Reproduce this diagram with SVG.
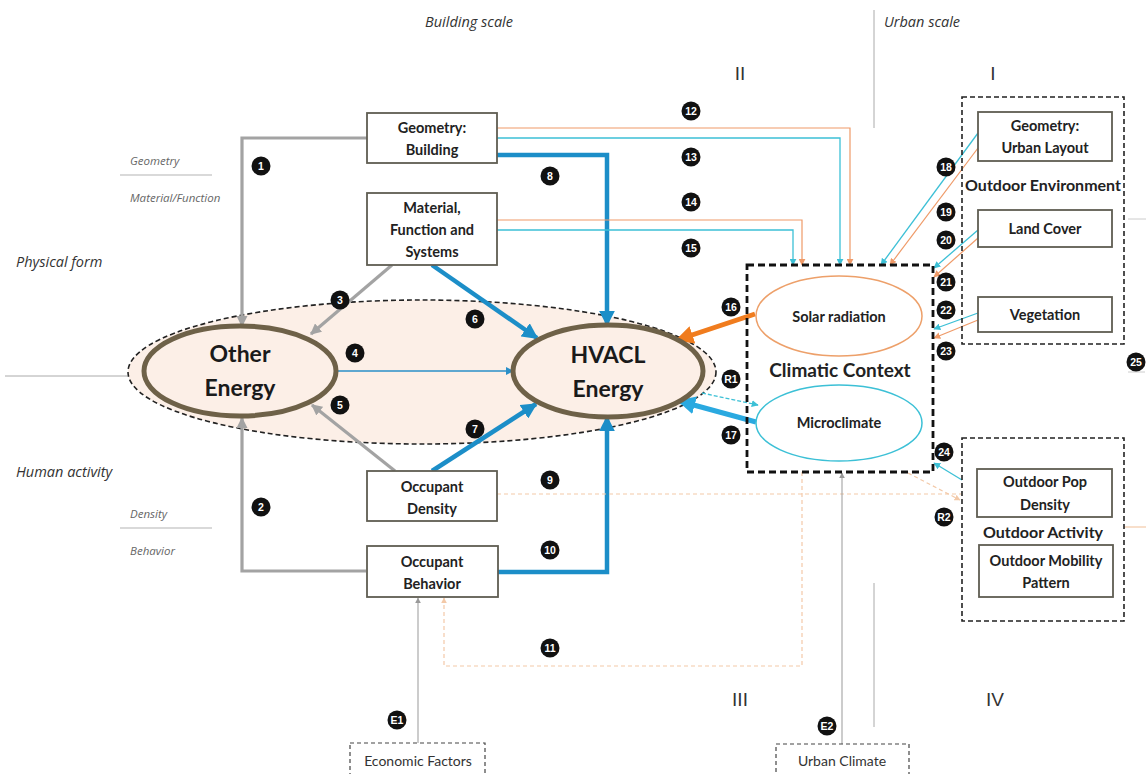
<svg xmlns="http://www.w3.org/2000/svg" width="1146" height="774" viewBox="0 0 1146 774">
<style>
.box{fill:#fff;stroke:#5f5d52;stroke-width:1.8}
.bt{font-family:Lato,"Liberation Sans",sans-serif;font-weight:bold;font-size:14.5px;fill:#222;text-anchor:middle}
.big{font-family:Lato,"Liberation Sans",sans-serif;font-weight:bold;font-size:23px;fill:#1a1a1a;text-anchor:middle}
.grp{font-family:Lato,"Liberation Sans",sans-serif;font-weight:bold;font-size:16px;fill:#222;text-anchor:middle}
.it{font-family:"Open Sans","Liberation Sans",sans-serif;font-style:italic;fill:#333}
.sm{font-family:"Open Sans","Liberation Sans",sans-serif;font-style:italic;font-size:11.5px;fill:#666}
.rn{font-family:"Liberation Sans",sans-serif;font-size:19px;fill:#333;text-anchor:middle}
.ext{font-family:Lato,"Liberation Sans",sans-serif;font-size:14px;fill:#333;text-anchor:middle}
.bd circle{fill:#111}
.bd text{font-family:"Liberation Sans",sans-serif;font-weight:bold;font-size:10.5px;fill:#fff;text-anchor:middle}
.dash{fill:none;stroke:#222;stroke-dasharray:5 3}
.g{fill:none;stroke:#a3a3a3;stroke-width:3.2}
.b{fill:none;stroke:#1c8ec8;stroke-width:4.5}
.bthin{fill:none;stroke:#2a8fc8;stroke-width:1.5}
.c{fill:none;stroke:#3cc0d6;stroke-width:1.3}
.o{fill:none;stroke:#ef9a68;stroke-width:1.2}
.of{fill:none;stroke:#f3c9a8;stroke-width:1.2;stroke-dasharray:4 3}
.thin{fill:none;stroke:#999;stroke-width:1}
.div{fill:none;stroke:#aaa;stroke-width:1}
</style>
<defs>
<marker id="ag" viewBox="0 0 10 10" refX="9" refY="5" markerWidth="11" markerHeight="11" markerUnits="userSpaceOnUse" orient="auto"><path d="M0,0 L10,5 L0,10 z" fill="#a3a3a3"/></marker>
<marker id="ab" viewBox="0 0 10 10" refX="9" refY="5" markerWidth="16" markerHeight="16" markerUnits="userSpaceOnUse" orient="auto"><path d="M0,0 L10,5 L0,10 z" fill="#1c8ec8"/></marker>
<marker id="abt" viewBox="0 0 10 10" refX="9" refY="5" markerWidth="8" markerHeight="8" markerUnits="userSpaceOnUse" orient="auto"><path d="M0,0 L10,5 L0,10 z" fill="#2a8fc8"/></marker>
<marker id="ac" viewBox="0 0 10 10" refX="9" refY="5" markerWidth="7" markerHeight="7" markerUnits="userSpaceOnUse" orient="auto"><path d="M0,0 L10,5 L0,10 z" fill="#3cc0d6"/></marker>
<marker id="ao" viewBox="0 0 10 10" refX="9" refY="5" markerWidth="7" markerHeight="7" markerUnits="userSpaceOnUse" orient="auto"><path d="M0,0 L10,5 L0,10 z" fill="#ef9a68"/></marker>
<marker id="aof" viewBox="0 0 10 10" refX="9" refY="5" markerWidth="6" markerHeight="6" markerUnits="userSpaceOnUse" orient="auto"><path d="M0,0 L10,5 L0,10 z" fill="#f3c9a8"/></marker>
<marker id="aot" viewBox="0 0 10 10" refX="9" refY="5" markerWidth="18" markerHeight="18" markerUnits="userSpaceOnUse" orient="auto"><path d="M0,0 L10,5 L0,10 z" fill="#f07c1e"/></marker>
<marker id="act" viewBox="0 0 10 10" refX="9" refY="5" markerWidth="18" markerHeight="18" markerUnits="userSpaceOnUse" orient="auto"><path d="M0,0 L10,5 L0,10 z" fill="#2aa9e0"/></marker>
<marker id="agt" viewBox="0 0 10 10" refX="9" refY="5" markerWidth="6" markerHeight="6" markerUnits="userSpaceOnUse" orient="auto"><path d="M0,0 L10,5 L0,10 z" fill="#999"/></marker>
</defs>
<rect width="1146" height="774" fill="#fff"/>

<g id="labels">
<text class="it" x="469" y="27" font-size="14.5" text-anchor="middle">Building scale</text>
<text class="it" x="922" y="27" font-size="14.5" text-anchor="middle">Urban scale</text>
<line class="div" x1="874" y1="10" x2="874" y2="128"/>
<line class="div" x1="874" y1="583" x2="874" y2="727"/>
<text class="rn" x="740" y="80">II</text>
<text class="rn" x="993" y="80">I</text>
<text class="rn" x="740" y="706">III</text>
<text class="rn" x="995" y="706">IV</text>
<text class="sm" x="130" y="165">Geometry</text>
<line x1="120" y1="175" x2="212" y2="175" stroke="#ccc" stroke-width="1.5"/>
<text class="sm" x="130" y="202">Material/Function</text>
<text class="it" x="16" y="267" font-size="14.5">Physical form</text>
<line class="div" x1="5" y1="376" x2="128" y2="376"/>
<text class="it" x="16" y="477" font-size="14.5">Human activity</text>
<text class="sm" x="130" y="518">Density</text>
<line x1="120" y1="528" x2="212" y2="528" stroke="#ccc" stroke-width="1.5"/>
<text class="sm" x="130" y="555">Behavior</text>
<line x1="1128" y1="219" x2="1146" y2="219" stroke="#ccc" stroke-width="1"/>
<line x1="1128" y1="372" x2="1145" y2="372" stroke="#ccc" stroke-width="1"/>
<line x1="1124" y1="527" x2="1146" y2="527" stroke="#f3c9a8" stroke-width="1.2"/>
</g>

<g id="energy-group">
<ellipse cx="422" cy="372" rx="294" ry="72" class="dash" stroke-width="1.6" style="fill:#fcefe7"/>
</g>

<g id="connectors">
<path class="g" d="M367,138 H242 V326" marker-end="url(#ag)"/>
<path class="g" d="M366,571 H242 V418" marker-end="url(#ag)"/>
<path class="g" d="M392,265 L311,334" marker-end="url(#ag)"/>
<path class="g" d="M395,471 L312,405" marker-end="url(#ag)"/>
<path class="bthin" d="M337,371 H513" marker-end="url(#abt)"/>
<path class="b" d="M432,265 L537,338" marker-end="url(#ab)"/>
<path class="b" d="M432,471 L536,404" marker-end="url(#ab)"/>
<path class="b" d="M497,155 H607 V325" marker-end="url(#ab)"/>
<path class="b" d="M498,572 H607 V417" marker-end="url(#ab)"/>
<path class="o" d="M497,128 H850 V265" marker-end="url(#ao)"/>
<path class="c" d="M497,138 H840 V265" marker-end="url(#ac)"/>
<path class="o" d="M497,220 H802 V265" marker-end="url(#ao)"/>
<path class="c" d="M497,230 H793 V265" marker-end="url(#ac)"/>
<path fill="none" stroke="#f07c1e" stroke-width="5" d="M755,314 L677,340" marker-end="url(#aot)"/>
<path fill="none" stroke="#2aa9e0" stroke-width="5" d="M756,422 L679,401" marker-end="url(#act)"/>
<path class="c" stroke-dasharray="4 2" d="M702,393 L758,405" marker-end="url(#ac)"/>
<path class="c" d="M978,133 L881,265" marker-end="url(#ac)"/>
<path class="o" d="M978,148 L890,265" marker-end="url(#ao)"/>
<path class="c" d="M978,230 L934,268" marker-end="url(#ac)"/>
<path class="o" d="M978,238 L934,277" marker-end="url(#ao)"/>
<path class="c" d="M978,313 L934,329" marker-end="url(#ac)"/>
<path class="o" d="M978,320 L934,338" marker-end="url(#ao)"/>
<path class="c" d="M962,480 L934,463" marker-end="url(#ac)"/>
<path class="of" d="M497,494 H962"/>
<path class="of" d="M908,473 L960,500" marker-end="url(#aof)"/>
<path class="of" d="M802,472 V666 H444 V598" marker-end="url(#aof)"/>
<path class="thin" d="M418,743 V598" marker-end="url(#agt)"/>
<path class="thin" d="M842,744 V473" marker-end="url(#agt)"/>
</g>

<g id="other-energy">
<ellipse cx="240" cy="371" rx="96" ry="45" fill="#fcefe7" stroke="#6e6148" stroke-width="5"/>
<text class="big" x="240" y="362">Other</text>
<text class="big" x="240" y="396">Energy</text>
</g>
<g id="hvacl-energy">
<ellipse cx="608" cy="371" rx="95" ry="46" fill="#fcefe7" stroke="#6e6148" stroke-width="5"/>
<text class="big" x="608" y="363">HVACL</text>
<text class="big" x="608" y="397">Energy</text>
</g>

<g id="geometry-building">
<rect class="box" x="367" y="113" width="130" height="50"/>
<text class="bt" x="432" y="133">Geometry:</text>
<text class="bt" x="432" y="155">Building</text>
</g>
<g id="material">
<rect class="box" x="367" y="193" width="130" height="72"/>
<text class="bt" x="432" y="213">Material,</text>
<text class="bt" x="432" y="235">Function and</text>
<text class="bt" x="432" y="257">Systems</text>
</g>
<g id="occupant-density">
<rect class="box" x="367" y="471" width="130" height="50"/>
<text class="bt" x="432" y="492">Occupant</text>
<text class="bt" x="432" y="514">Density</text>
</g>
<g id="occupant-behavior">
<rect class="box" x="367" y="546" width="131" height="51"/>
<text class="bt" x="432" y="567">Occupant</text>
<text class="bt" x="432" y="589">Behavior</text>
</g>

<g id="climatic-context">
<rect x="747" y="265" width="186" height="207" fill="none" stroke="#111" stroke-width="2.8" stroke-dasharray="7 4"/>
<text class="grp" x="840" y="377" style="font-size:19px">Climatic Context</text>
</g>
<g id="solar-radiation">
<ellipse cx="839" cy="316" rx="83" ry="40" fill="#fff" stroke="#eda06a" stroke-width="1.5"/>
<text class="bt" x="839" y="322">Solar radiation</text>
</g>
<g id="microclimate">
<ellipse cx="839" cy="423" rx="83" ry="38" fill="#fff" stroke="#3cc0d6" stroke-width="1.5"/>
<text class="bt" x="839" y="428">Microclimate</text>
</g>

<g id="outdoor-environment">
<rect x="962" y="97" width="162" height="247" fill="none" stroke="#222" stroke-width="1.6" stroke-dasharray="5 3"/>
<text class="grp" x="1043" y="191">Outdoor Environment</text>
</g>
<g id="urban-layout">
<rect class="box" x="978" y="112" width="134" height="49"/>
<text class="bt" x="1045" y="131">Geometry:</text>
<text class="bt" x="1045" y="153">Urban Layout</text>
</g>
<g id="land-cover">
<rect class="box" x="978" y="210" width="134" height="37"/>
<text class="bt" x="1045" y="234">Land Cover</text>
</g>
<g id="vegetation">
<rect class="box" x="978" y="297" width="134" height="35"/>
<text class="bt" x="1045" y="320">Vegetation</text>
</g>

<g id="outdoor-activity">
<rect x="962" y="438" width="162" height="183" fill="none" stroke="#222" stroke-width="1.6" stroke-dasharray="5 3"/>
<text class="grp" x="1043" y="538">Outdoor Activity</text>
</g>
<g id="outdoor-pop-density">
<rect class="box" x="977" y="469" width="135" height="48"/>
<text class="bt" x="1045" y="487">Outdoor Pop</text>
<text class="bt" x="1045" y="510">Density</text>
</g>
<g id="outdoor-mobility">
<rect class="box" x="979" y="545" width="134" height="52"/>
<text class="bt" x="1046" y="566">Outdoor Mobility</text>
<text class="bt" x="1046" y="588">Pattern</text>
</g>

<g id="economic-factors">
<rect x="350" y="743" width="135" height="36" fill="#fff" stroke="#444" stroke-width="1.2" stroke-dasharray="4 3"/>
<text class="ext" x="418" y="766">Economic Factors</text>
</g>
<g id="urban-climate">
<rect x="776" y="744" width="133" height="35" fill="#fff" stroke="#444" stroke-width="1.2" stroke-dasharray="4 3"/>
<text class="ext" x="842" y="766">Urban Climate</text>
</g>

<g id="badges" class="bd">
<g><circle cx="261" cy="166" r="9.5"/><text x="261" y="170">1</text></g>
<g><circle cx="261" cy="507" r="9.5"/><text x="261" y="511">2</text></g>
<g><circle cx="340" cy="300" r="9.5"/><text x="340" y="304">3</text></g>
<g><circle cx="355" cy="353" r="9.5"/><text x="355" y="357">4</text></g>
<g><circle cx="340" cy="405" r="9.5"/><text x="340" y="409">5</text></g>
<g><circle cx="475" cy="319" r="9.5"/><text x="475" y="323">6</text></g>
<g><circle cx="475" cy="429" r="9.5"/><text x="475" y="433">7</text></g>
<g><circle cx="550" cy="176" r="9.5"/><text x="550" y="180">8</text></g>
<g><circle cx="550" cy="480" r="9.5"/><text x="550" y="484">9</text></g>
<g><circle cx="550" cy="550" r="9.5"/><text x="550" y="554">10</text></g>
<g><circle cx="550" cy="648" r="9.5"/><text x="550" y="652">11</text></g>
<g><circle cx="691" cy="111" r="9.5"/><text x="691" y="115">12</text></g>
<g><circle cx="691" cy="157" r="9.5"/><text x="691" y="161">13</text></g>
<g><circle cx="691" cy="202" r="9.5"/><text x="691" y="206">14</text></g>
<g><circle cx="691" cy="248" r="9.5"/><text x="691" y="252">15</text></g>
<g><circle cx="731" cy="307" r="9.5"/><text x="731" y="311">16</text></g>
<g><circle cx="731" cy="379" r="9.5"/><text x="731" y="383">R1</text></g>
<g><circle cx="731" cy="435" r="9.5"/><text x="731" y="439">17</text></g>
<g><circle cx="946" cy="167" r="9.5"/><text x="946" y="171">18</text></g>
<g><circle cx="946" cy="212" r="9.5"/><text x="946" y="216">19</text></g>
<g><circle cx="946" cy="240" r="9.5"/><text x="946" y="244">20</text></g>
<g><circle cx="946" cy="282" r="9.5"/><text x="946" y="286">21</text></g>
<g><circle cx="946" cy="310" r="9.5"/><text x="946" y="314">22</text></g>
<g><circle cx="946" cy="351" r="9.5"/><text x="946" y="355">23</text></g>
<g><circle cx="944" cy="452" r="9.5"/><text x="944" y="456">24</text></g>
<g><circle cx="944" cy="517" r="9.5"/><text x="944" y="521">R2</text></g>
<g><circle cx="1136" cy="362" r="9.5"/><text x="1136" y="366">25</text></g>
<g><circle cx="397" cy="720" r="9.5"/><text x="397" y="724">E1</text></g>
<g><circle cx="827" cy="726" r="9.5"/><text x="827" y="730">E2</text></g>
</g>
</svg>
